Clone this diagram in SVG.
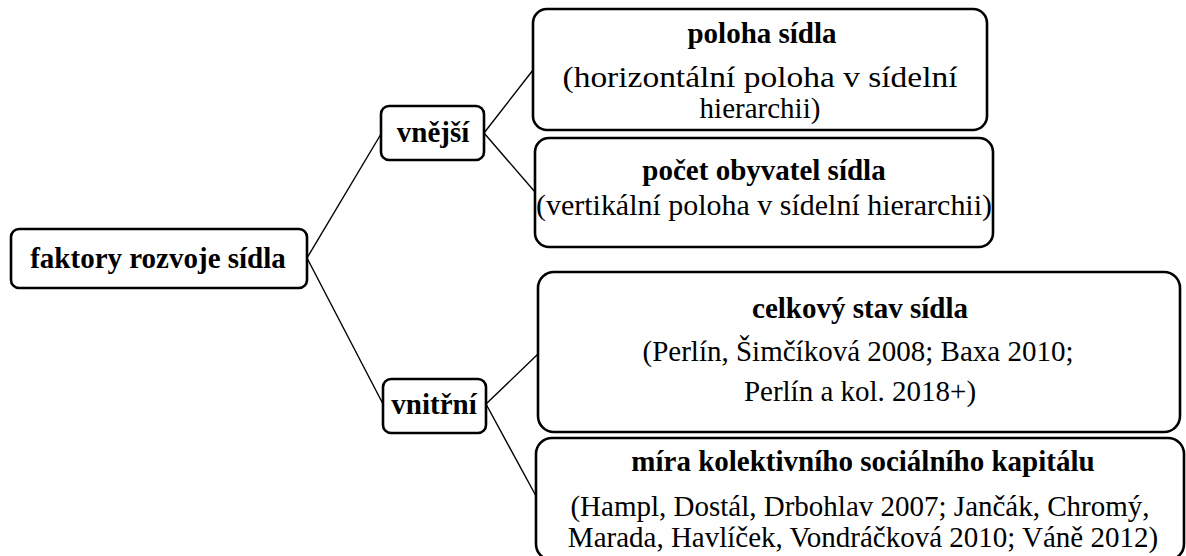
<svg xmlns="http://www.w3.org/2000/svg" width="1186" height="556" viewBox="0 0 1186 556">
<style>
.box{fill:#fff;stroke:#000;stroke-width:2.6}
.b{font-family:"Liberation Serif","Times New Roman",serif;font-weight:bold;font-size:29px;fill:#000;text-anchor:middle}
.r{font-family:"Liberation Serif","Times New Roman",serif;font-size:29px;fill:#000;text-anchor:middle}
.c{stroke:#000;stroke-width:1.4;fill:none}
</style>
<rect width="1186" height="556" fill="#fff"/>
<g id="connectors">
<line class="c" x1="307" y1="258" x2="381" y2="134"/>
<line class="c" x1="307" y1="258" x2="383" y2="404"/>
<line class="c" x1="484" y1="133" x2="533" y2="70"/>
<line class="c" x1="484" y1="133" x2="535" y2="192"/>
<line class="c" x1="486" y1="404" x2="538" y2="354"/>
<line class="c" x1="486" y1="404" x2="536" y2="496"/>
</g>
<g id="root">
<rect class="box" x="11" y="229" width="296" height="59" rx="8"/>
<text class="b" x="158" y="268">faktory rozvoje sídla</text>
</g>
<g id="vnejsi">
<rect class="box" x="381" y="106" width="103" height="54" rx="8"/>
<text class="b" x="433" y="142">vnější</text>
</g>
<g id="vnitrni">
<rect class="box" x="383" y="379" width="103" height="54" rx="8"/>
<text class="b" x="434" y="414">vnitřní</text>
</g>
<g id="poloha">
<rect class="box" x="533" y="9" width="454" height="121" rx="14"/>
<text class="b" x="762" y="43">poloha sídla</text>
<text class="r" x="760" y="87" textLength="395" lengthAdjust="spacingAndGlyphs">(horizontální poloha v sídelní</text>
<text class="r" x="760" y="118">hierarchii)</text>
</g>
<g id="pocet">
<rect class="box" x="535" y="138" width="458" height="109" rx="14"/>
<text class="b" x="764" y="180">počet obyvatel sídla</text>
<text class="r" x="764" y="215" textLength="456" lengthAdjust="spacingAndGlyphs">(vertikální poloha v sídelní hierarchii)</text>
</g>
<g id="celkovy">
<rect class="box" x="538" y="272" width="642" height="160" rx="16"/>
<text class="b" x="860" y="318">celkový stav sídla</text>
<text class="r" x="858" y="361">(Perlín, Šimčíková 2008; Baxa 2010;</text>
<text class="r" x="860" y="401">Perlín a kol. 2018+)</text>
</g>
<g id="mira">
<rect class="box" x="536" y="438" width="648" height="122" rx="16"/>
<text class="b" x="863" y="471">míra kolektivního sociálního kapitálu</text>
<text class="r" x="860" y="516">(Hampl, Dostál, Drbohlav 2007; Jančák, Chromý,</text>
<text class="r" x="863" y="547">Marada, Havlíček, Vondráčková 2010; Váně 2012)</text>
</g>
</svg>
